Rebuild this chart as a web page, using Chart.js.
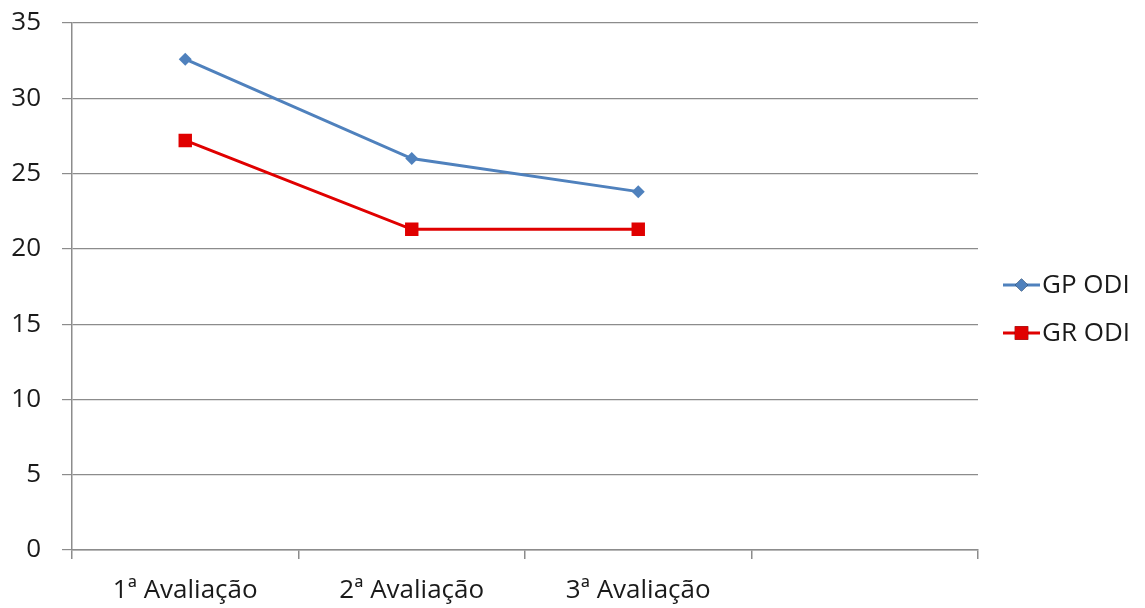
<!DOCTYPE html>
<html>
<head>
<meta charset="utf-8">
<script src="https://cdn.jsdelivr.net/npm/chart.js@4/dist/chart.umd.min.js"></script>
<style>
  html, body { margin: 0; padding: 0; background: #ffffff; }
  #wrap { width: 1145px; height: 608px; position: relative; }
</style>
</head>
<body>
<div id="wrap"><canvas id="c" width="1145" height="608"></canvas></div>
<script>
// Categories (the fourth slot is left empty on the axis)
const categories = ['1ª Avaliação', '2ª Avaliação', '3ª Avaliação', ''];

// ODI scores per assessment
const gpOdi = [32.6, 26.0, 23.8, null];
const grOdi = [27.2, 21.3, 21.3, null];

const seriesNames = ['GP ODI', 'GR ODI'];

// y axis range
const yMin = 0;
const yMax = 35;
const yStep = 5;

const FONT = "'Open Sans', 'Noto Sans', sans-serif";
const FONT_SIZE = 26;
const GRID = '#8c8c8c';
const TEXT = '#1a1a1a';

// Legend drawn at the right: short line with the series marker in the middle
const sideLegend = {
  id: 'sideLegend',
  afterDraw(chart) {
    const ctx = chart.ctx;
    const rows = [285, 333];
    chart.data.datasets.forEach((ds, i) => {
      const y = rows[i];
      const x0 = 1003, x1 = 1040;
      ctx.save();
      ctx.strokeStyle = ds.borderColor;
      ctx.lineWidth = ds.borderWidth;
      ctx.beginPath();
      ctx.moveTo(x0, y);
      ctx.lineTo(x1, y);
      ctx.stroke();
      Chart.helpers.drawPoint(ctx, {
        pointStyle: ds.pointStyle,
        radius: ds.pointRadius,
        borderWidth: 0
      }, (x0 + x1) / 2, y);
      ctx.fillStyle = ds.pointBackgroundColor;
      ctx.fill();
      ctx.fillStyle = TEXT;
      ctx.font = FONT_SIZE + 'px ' + FONT;
      ctx.textBaseline = 'middle';
      ctx.textAlign = 'left';
      ctx.fillText(ds.label, 1042, y + 1);
      ctx.restore();
    });
  }
};

new Chart(document.getElementById('c'), {
  type: 'line',
  data: {
    labels: categories,
    datasets: [
      {
        label: seriesNames[0],
        data: gpOdi,
        borderColor: '#4f81bd',
        backgroundColor: '#4f81bd',
        pointBackgroundColor: '#4f81bd',
        pointBorderColor: '#4f81bd',
        borderWidth: 3,
        pointStyle: 'rectRot',
        pointRadius: 6.5,
        pointBorderWidth: 0,
        tension: 0
      },
      {
        label: seriesNames[1],
        data: grOdi,
        borderColor: '#e00000',
        backgroundColor: '#e00000',
        pointBackgroundColor: '#e00000',
        pointBorderColor: '#e00000',
        borderWidth: 3,
        pointStyle: 'rect',
        pointRadius: 9.5,
        pointBorderWidth: 0,
        tension: 0
      }
    ]
  },
  options: {
    responsive: false,
    animation: false,
    layout: { padding: { left: 0, right: 167, top: 23, bottom: 0 } },
    plugins: {
      legend: { display: false },
      tooltip: { enabled: false }
    },
    scales: {
      x: {
        offset: true,
        afterFit(scale) {
          scale.height = 58;
          scale.paddingLeft = 0;
          scale.paddingRight = 0;
        },
        grid: {
          offset: true,
          drawOnChartArea: false,
          drawTicks: true,
          tickLength: 9,
          color: GRID,
          lineWidth: 1.5
        },
        border: { display: true, color: GRID, width: 1.5 },
        ticks: {
          color: TEXT,
          font: { family: FONT, size: FONT_SIZE },
          padding: 16,
          maxRotation: 0,
          autoSkip: false
        }
      },
      y: {
        min: yMin,
        max: yMax,
        afterFit(scale) {
          scale.width = 72;
          scale.paddingTop = 0;
          scale.paddingBottom = 0;
        },
        grid: {
          color: GRID,
          lineWidth: 1.2,
          drawTicks: true,
          tickLength: 10
        },
        border: { display: true, color: GRID, width: 1.5 },
        ticks: {
          stepSize: yStep,
          color: TEXT,
          font: { family: FONT, size: FONT_SIZE },
          padding: 21
        }
      }
    }
  },
  plugins: [sideLegend]
});
</script>
</body>
</html>
